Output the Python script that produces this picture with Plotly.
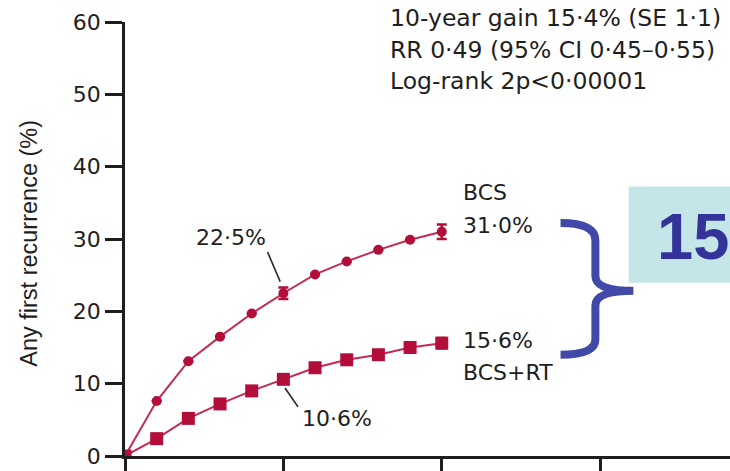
import plotly.graph_objects as go

# Cumulative risk of any first recurrence by year of follow-up
years = [0, 1, 2, 3, 4, 5, 6, 7, 8, 9, 10]
bcs = [0, 7.6, 13.1, 16.5, 19.7, 22.5, 25.1, 26.9, 28.5, 29.9, 31.0]
bcs_se = [0, 0, 0, 0, 0, 0.8, 0, 0, 0, 0, 1.0]
bcs_rt = [0, 2.4, 5.2, 7.2, 9.0, 10.6, 12.2, 13.3, 14.0, 15.0, 15.6]
bcs_rt_se = [0, 0, 0, 0, 0, 0, 0, 0, 0, 0, 0.7]

y_ticks = [0, 10, 20, 30, 40, 50, 60]
x_ticks = [0, 5, 10, 15]

stats_lines = [
    "10-year gain 15·4% (SE 1·1)",
    "RR 0·49 (95% CI 0·45–0·55)",
    "Log-rank 2p<0·00001",
]

RED = "#B30D3A"
LINE_RED = "#C42A52"
INK = "#1E1E1E"
BRACE = "#4149A8"
TEXT_FONT = "DejaVu Sans"


def pct(v):
    return f"{v:.1f}%".replace(".", "·")


fig = go.Figure()

fig.add_trace(go.Scatter(
    x=years, y=bcs, mode="lines+markers", name="BCS",
    line=dict(color=LINE_RED, width=2),
    marker=dict(symbol="circle", size=10, color=RED),
    error_y=dict(type="data", array=bcs_se, visible=True,
                 color=RED, thickness=2.5, width=5),
))
fig.add_trace(go.Scatter(
    x=years, y=bcs_rt, mode="lines+markers", name="BCS+RT",
    line=dict(color=LINE_RED, width=2),
    marker=dict(symbol="square", size=13, color=RED),
    error_y=dict(type="data", array=bcs_rt_se, visible=True,
                 color=RED, thickness=2.5, width=5),
))

label_font = dict(family=TEXT_FONT, size=22, color=INK)
annotations = []

# Statistics block, top right
for i, line in enumerate(stats_lines):
    annotations.append(dict(
        x=0.434, y=1.01 - i * 0.0735, xref="paper", yref="paper",
        text=line, showarrow=False, xanchor="left", yanchor="middle",
        font=dict(family=TEXT_FONT, size=23.5, color=INK),
    ))

# End-point labels at 10 years
for x, y, text in [
    (10.6, 36.4, "BCS"),
    (10.6, 31.8, pct(bcs[10])),
    (10.6, 16.0, pct(bcs_rt[10])),
    (10.6, 11.6, "BCS+RT"),
]:
    annotations.append(dict(
        x=x, y=y, xref="x", yref="y", text=text, showarrow=False,
        xanchor="left", yanchor="middle", font=label_font,
    ))

# 5-year values (leader lines are drawn as shapes below)
annotations.append(dict(
    x=3.36, y=30.15, xref="x", yref="y", text=pct(bcs[5]),
    showarrow=False, xanchor="center", yanchor="middle", font=label_font,
))
annotations.append(dict(
    x=6.69, y=5.2, xref="x", yref="y", text=pct(bcs_rt[5]),
    showarrow=False, xanchor="center", yanchor="middle", font=label_font,
))

# Absolute gain callout
annotations.append(dict(
    x=1.0, y=30.3, xref="paper", yref="y",
    text="<b>15</b>", showarrow=False, xanchor="right", yanchor="middle",
    borderpad=0, font=dict(family="Liberation Sans", size=65, color="#333399"),
))

# Y-axis title
annotations.append(dict(
    x=-0.158, y=0.49, xref="paper", yref="paper",
    text="Any first recurrence (%)", textangle=-90, showarrow=False,
    xanchor="center", yanchor="middle",
    font=dict(family="Liberation Sans", size=23.5, color=INK),
))

leader = dict(color="#2A2A2A", width=1.6)
shapes = [
    # Callout background
    dict(type="rect", xref="x", yref="y", x0=15.9, x1=19.5, y0=23.95, y1=37.25,
         fillcolor="#C4E6E8", line=dict(width=0), layer="below"),
    # Leader lines for the 5-year values
    dict(type="line", xref="x", yref="y", x0=4.5, y0=28.2, x1=4.9, y1=24.1,
         line=leader),
    dict(type="line", xref="x", yref="y", x0=5.05, y0=9.4, x1=5.46, y1=6.8,
         line=leader),
    # Curly brace spanning the two 10-year values
    dict(type="path", xref="x", yref="y",
         path=("M 13.75,32.2 Q 14.85,32.2 14.85,29.8 L 14.85,24.9 "
               "Q 14.85,22.85 16.05,22.85 Q 14.85,22.85 14.85,20.8 "
               "L 14.85,16.1 Q 14.85,14.0 13.75,14.0"),
         line=dict(color=BRACE, width=8), fillcolor="rgba(0,0,0,0)"),
]

fig.update_layout(
    width=730, height=471,
    margin=dict(l=125, r=0, t=22, b=15),
    paper_bgcolor="white", plot_bgcolor="white",
    showlegend=False,
    annotations=annotations,
    shapes=shapes,
    xaxis=dict(
        range=[0, 19.1], tickvals=x_ticks, showticklabels=False,
        showgrid=False, zeroline=False,
        showline=True, linecolor=INK, linewidth=2.5,
        ticks="outside", ticklen=16, tickwidth=2.5, tickcolor=INK,
    ),
    yaxis=dict(
        range=[0, 60], tickvals=y_ticks,
        showgrid=False, zeroline=False,
        showline=True, linecolor=INK, linewidth=2.5,
        ticks="outside", ticklen=17, tickwidth=2.5, tickcolor=INK,
        tickfont=dict(family=TEXT_FONT, size=22, color=INK),
    ),
)

fig.write_html("out.html")
